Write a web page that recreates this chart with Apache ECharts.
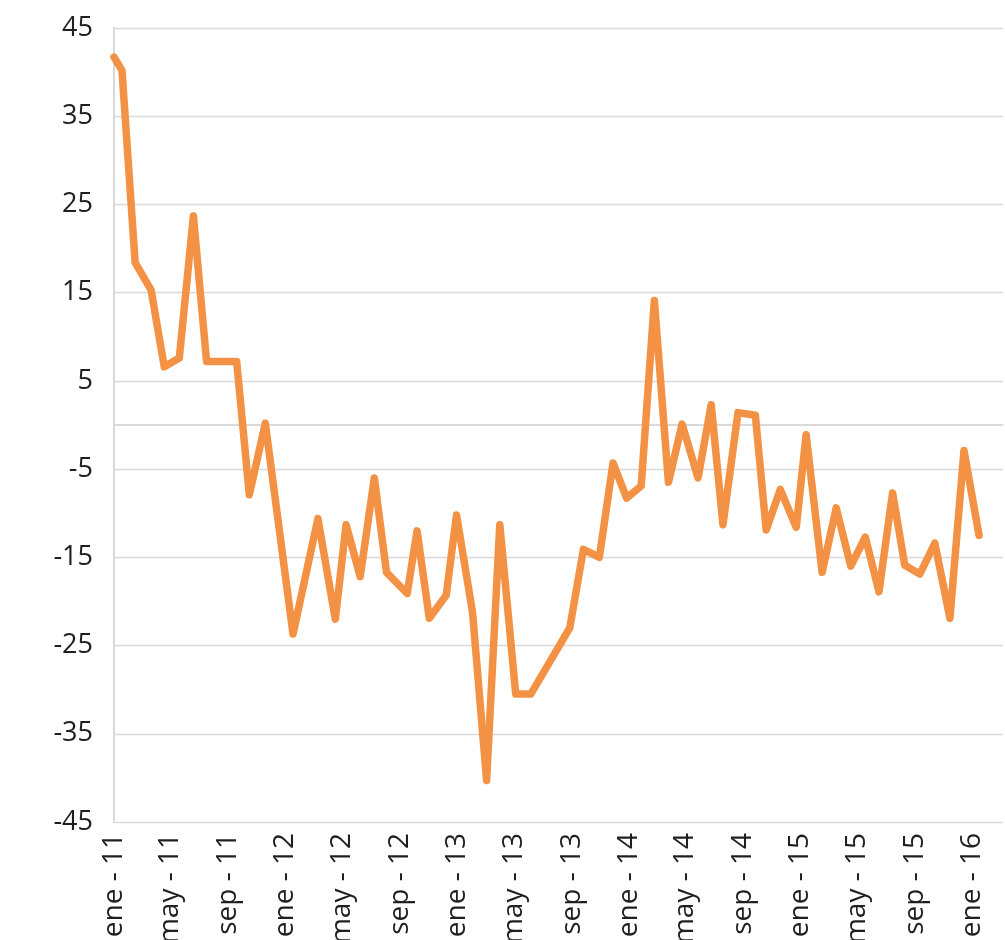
<!DOCTYPE html>
<html>
<head>
<meta charset="utf-8">
<script src="https://cdn.jsdelivr.net/npm/echarts@6/dist/echarts.min.js"></script>
<style>
  html, body { margin: 0; padding: 0; background: #ffffff; }
  #chart { width: 1005px; height: 940px; }
</style>
</head>
<body>
<div id="chart"></div>
<script>
// Fechas de cada observación (aaaa-mm-dd)
const fechas = [
  '2011-01-01', '2011-01-18', '2011-02-15', '2011-03-21', '2011-04-18', '2011-05-20',
  '2011-06-19', '2011-07-17', '2011-09-19', '2011-10-16', '2011-11-19', '2012-01-17',
  '2012-03-10', '2012-04-16', '2012-05-09', '2012-06-08', '2012-07-08', '2012-08-03',
  '2012-09-16', '2012-10-07', '2012-11-02', '2012-12-08', '2012-12-30', '2013-02-02',
  '2013-03-04', '2013-04-01', '2013-05-05', '2013-06-06', '2013-08-28', '2013-09-26',
  '2013-10-30', '2013-11-28', '2013-12-27', '2014-01-27', '2014-02-24', '2014-03-26',
  '2014-04-24', '2014-05-28', '2014-06-25', '2014-07-20', '2014-08-21', '2014-09-27',
  '2014-10-20', '2014-11-19', '2014-12-23', '2015-01-13', '2015-02-16', '2015-03-18',
  '2015-04-18', '2015-05-19', '2015-06-17', '2015-07-16', '2015-08-11', '2015-09-12',
  '2015-10-14', '2015-11-15', '2015-12-15', '2016-01-16'
];

// Saldo de cada observación
const valores = [
  41.7, 40.2, 18.4, 15.3, 6.6, 7.6,
  23.7, 7.2, 7.2, -7.9, 0.2, -23.7,
  -10.6, -22.0, -11.3, -17.2, -6.0, -16.7,
  -19.1, -12.0, -21.9, -19.3, -10.2, -21.2,
  -40.3, -11.3, -30.5, -30.5, -23.0, -14.1,
  -15.0, -4.3, -8.3, -6.9, 14.1, -6.5,
  0.1, -6.0, 2.3, -11.3, 1.4, 1.1,
  -11.9, -7.3, -11.6, -1.1, -16.7, -9.4,
  -16.0, -12.7, -18.9, -7.7, -15.9, -16.9,
  -13.4, -21.9, -2.9, -12.5
];

// Marcas del eje horizontal, cada cuatro meses
const marcasEjeX = [
  '2011-01-01', '2011-05-01', '2011-09-01', '2012-01-01', '2012-05-01', '2012-09-01',
  '2013-01-01', '2013-05-01', '2013-09-01', '2014-01-01', '2014-05-01', '2014-09-01',
  '2015-01-01', '2015-05-01', '2015-09-01', '2016-01-01'
];
const mesesAbrev = ['ene', 'feb', 'mar', 'abr', 'may', 'jun', 'jul', 'ago', 'sep', 'oct', 'nov', 'dic'];

// Rango de los ejes
const ejeXInicio = '2011-01-01';
const ejeXFin = '2016-03-07';
const ejeYMin = -45;
const ejeYMax = 45;
const ejeYPaso = 10;

function aUTC(s) {
  const [a, m, d] = s.split('-').map(Number);
  return Date.UTC(a, m - 1, d);
}

function etiquetaMes(v) {
  const f = new Date(v);
  return mesesAbrev[f.getUTCMonth()] + ' - ' + String(f.getUTCFullYear()).slice(2);
}

const serie = fechas.map((f, i) => [aUTC(f), valores[i]]);

const fuente = '"Open Sans", "Noto Sans", sans-serif';
const colorTexto = '#1f1f1f';
const colorRejilla = '#d9d9d9';

const chart = echarts.init(document.getElementById('chart'), null, { renderer: 'canvas' });

chart.setOption({
  backgroundColor: '#ffffff',
  animation: false,
  grid: { left: 114, right: 2, top: 28, bottom: 118, containLabel: false, outerBoundsMode: 'none' },
  xAxis: {
    type: 'value',
    min: aUTC(ejeXInicio),
    max: aUTC(ejeXFin),
    axisLine: { show: true, lineStyle: { color: colorRejilla, width: 1.5 } },
    axisTick: { show: false },
    splitLine: { show: false },
    axisLabel: {
      customValues: marcasEjeX.map(aUTC),
      formatter: etiquetaMes,
      rotate: 90,
      margin: 11,
      padding: [6, 0, 0, 0],
      fontFamily: fuente,
      fontSize: 28,
      color: colorTexto,
      hideOverlap: false
    }
  },
  yAxis: {
    type: 'value',
    min: ejeYMin,
    max: ejeYMax,
    interval: ejeYPaso,
    axisLine: { show: true, lineStyle: { color: colorRejilla, width: 2 } },
    axisTick: { show: false },
    splitLine: { show: true, lineStyle: { color: colorRejilla, width: 1.3 } },
    axisLabel: {
      margin: 21,
      fontFamily: fuente,
      fontSize: 27,
      color: colorTexto
    }
  },
  series: [
    {
      type: 'line',
      data: serie,
      showSymbol: false,
      symbol: 'none',
      z: 3,
      lineStyle: { color: '#F39244', width: 7.5, cap: 'round', join: 'round' },
      markLine: {
        silent: true,
        z: 1,
        symbol: ['none', 'none'],
        label: { show: false },
        lineStyle: { color: colorRejilla, width: 2.2, type: 'solid' },
        data: [{ yAxis: 0 }]
      }
    }
  ]
});
</script>
</body>
</html>
